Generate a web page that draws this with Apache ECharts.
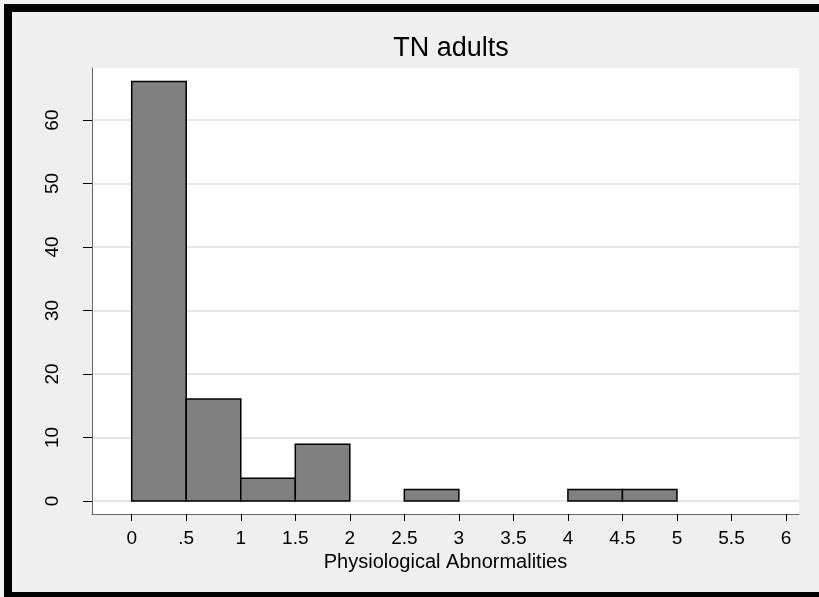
<!DOCTYPE html>
<html>
<head>
    <meta charset="utf-8">
    <title>TN adults</title>
    <script src="https://cdn.jsdelivr.net/npm/echarts@6/dist/echarts.min.js"></script>
    <style>
        html, body { margin: 0; padding: 0; background: #efefef; }
        #chart { width: 819px; height: 597px; }
    </style>
</head>
<body>
<div id="chart"></div>
<script>
    // histogram bins (width .5) and percent in each
    var binStart = [0, 0.5, 1, 1.5, 2.5, 4, 4.5];
    var binEnd = [0.5, 1, 1.5, 2, 3, 4.5, 5];
    var percent = [66.07, 16.07, 3.57, 8.93, 1.79, 1.79, 1.79];

    var xTicks = [0, 0.5, 1, 1.5, 2, 2.5, 3, 3.5, 4, 4.5, 5, 5.5, 6];
    var xTickLabels = ['0', '.5', '1', '1.5', '2', '2.5', '3', '3.5', '4', '4.5', '5', '5.5', '6'];
    var yTicks = [0, 10, 20, 30, 40, 50, 60];

    var font = '"Liberation Sans", Arial, sans-serif';

    var chart = echarts.init(document.getElementById('chart'));

    var data = binStart.map(function (s, i) {
        return [s, binEnd[i], percent[i]];
    });

    var option = {
        backgroundColor: '#efefef',
        animation: false,
        title: {
            text: 'TN adults',
            left: 446,
            top: 30,
            textAlign: 'center',
            textStyle: { fontFamily: font, fontSize: 27, fontWeight: 'normal', color: '#000' }
        },
        grid: {
            left: 92, right: 20, top: 68, bottom: 83,
            show: true, backgroundColor: '#fff', borderWidth: 0
        },
        xAxis: {
            type: 'value',
            min: -0.364,
            max: 6.119,
            name: 'Physiological Abnormalities',
            nameLocation: 'middle',
            nameGap: 33,
            nameTextStyle: { fontFamily: font, fontSize: 20, color: '#000' },
            axisLine: { show: true, onZero: false, lineStyle: { color: '#666', width: 1 } },
            axisTick: { show: true, length: 7, customValues: xTicks, lineStyle: { color: '#000' } },
            axisLabel: {
                customValues: xTicks,
                margin: 15,
                fontFamily: font, fontSize: 19, color: '#000',
                formatter: function (v) {
                    var i = xTicks.indexOf(v);
                    return i >= 0 ? xTickLabels[i] : '';
                }
            },
            splitLine: { show: false }
        },
        yAxis: {
            type: 'value',
            min: -2.05,
            max: 68.2,
            axisLine: { show: true, onZero: false, lineStyle: { color: '#666', width: 1 } },
            axisTick: { show: true, length: 9, customValues: yTicks, lineStyle: { color: '#000' } },
            axisLabel: {
                customValues: yTicks,
                rotate: 90,
                margin: 30,
                fontFamily: font, fontSize: 19, color: '#000'
            },
            splitLine: { show: true, lineStyle: { color: '#e6e6e6', width: 2 } }
        },
        series: [{
            type: 'custom',
            data: data,
            encode: { x: [0, 1], y: 2 },
            renderItem: function (params, api) {
                var p0 = api.coord([api.value(0), api.value(2)]);
                var p1 = api.coord([api.value(1), 0]);
                return {
                    type: 'rect',
                    shape: { x: p0[0], y: p0[1], width: p1[0] - p0[0], height: p1[1] - p0[1] },
                    style: { fill: '#808080', stroke: '#000', lineWidth: 1.5 }
                };
            }
        }],
        graphic: [
            { type: 'rect', left: 4, top: 4, shape: { width: 815, height: 8 }, style: { fill: '#000' } },
            { type: 'rect', left: 4, top: 4, shape: { width: 8, height: 593 }, style: { fill: '#000' } },
            { type: 'rect', left: 4, top: 592, shape: { width: 815, height: 5 }, style: { fill: '#000' } }
        ]
    };

    chart.setOption(option);
</script>
</body>
</html>
